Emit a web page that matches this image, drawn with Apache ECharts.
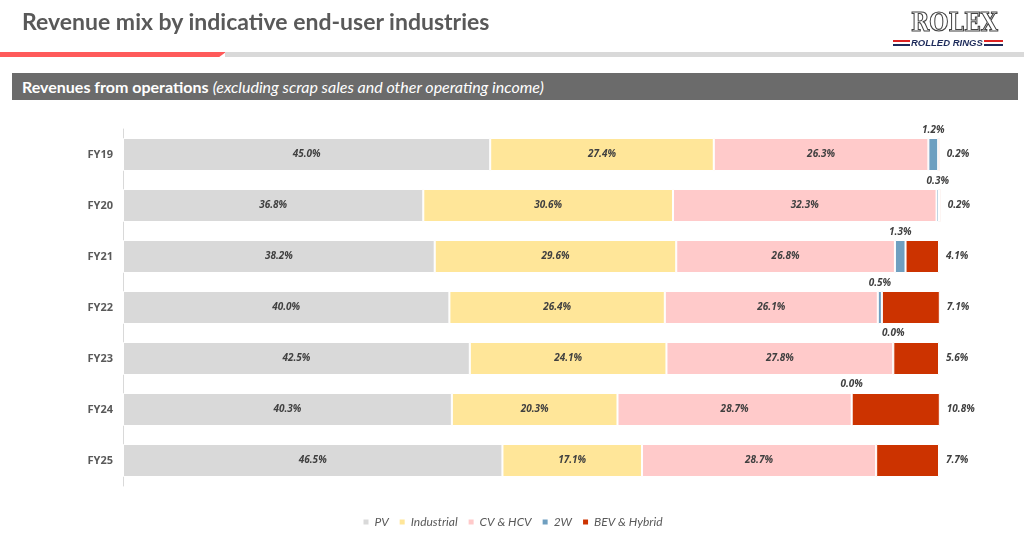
<!DOCTYPE html>
<html>
<head>
<meta charset="utf-8">
<script src="https://cdn.jsdelivr.net/npm/echarts@6.0.0/dist/echarts.min.js"></script>
<style>
  html, body { margin:0; padding:0; width:1024px; height:542px; background:#fff; overflow:hidden; }
  #chart { position:absolute; left:0; top:0; width:1024px; height:542px; }
  .hdr { position:absolute; z-index:2; }
  #title { left:22px; top:7px; font-family:Lato, sans-serif; font-weight:700; font-size:23px; color:#595959; white-space:nowrap; }
  #redline { left:0; top:52px; width:226px; height:5px; background:#ff5a5a; clip-path:polygon(0 0, 100% 0, 97% 100%, 0 100%); }
  #greyline { left:225px; top:52px; width:799px; height:5px; background:#d9d9d9; }
  #band { left:12px; top:73px; width:1006px; height:27px; background:#6b6b6b; color:#fff; font-family:Lato, sans-serif; font-size:16px; line-height:27px; white-space:nowrap; }
  #band b { margin-left:10px; font-weight:700; }
  #band i { font-weight:400; }
  #logo1 { left:911px; top:9px; font-family:"DejaVu Serif", serif; font-weight:700; font-size:22px; letter-spacing:0px; color:#fff; -webkit-text-stroke:1px #444; transform:scaleY(1.15); transform-origin:0 50%; }
  #logo2 { left:911px; top:37px; font-family:"Liberation Sans", Arial, sans-serif; font-weight:700; font-style:italic; font-size:9.5px; color:#1c2a5a; white-space:nowrap; }
  .stripe { position:absolute; height:2px; }
</style>
</head>
<body>
<div id="chart"></div>
<div class="hdr" id="title">Revenue mix by indicative end-user industries</div>
<div class="hdr" id="redline"></div>
<div class="hdr" id="greyline"></div>
<div class="hdr" id="band"><b>Revenues from operations</b> <i>(excluding scrap sales and other operating income)</i></div>
<div class="hdr" id="logo1">ROLEX</div>
<div class="hdr" id="logo2">ROLLED RINGS</div>
<div class="hdr stripe" style="left:893px;top:40px;width:17px;background:#d22;"></div>
<div class="hdr stripe" style="left:893px;top:44px;width:17px;background:#1c2a5a;"></div>
<div class="hdr stripe" style="left:984px;top:40px;width:19px;background:#d22;"></div>
<div class="hdr stripe" style="left:984px;top:44px;width:19px;background:#1c2a5a;"></div>
<script>
const categories = ['FY19','FY20','FY21','FY22','FY23','FY24','FY25'];
const pv         = [45.0, 36.8, 38.2, 40.0, 42.5, 40.3, 46.5];
const industrial = [27.4, 30.6, 29.6, 26.4, 24.1, 20.3, 17.1];
const cvHcv      = [26.3, 32.3, 26.8, 26.1, 27.8, 28.7, 28.7];
const twoW       = [1.2, 0.3, 1.3, 0.5, 0.0, 0.0, null];
const bevHybrid  = [0.2, 0.2, 4.1, 7.1, 5.6, 10.8, 7.7];

const labelFont = { fontStyle:'italic', fontWeight:'bold', fontSize:10, color:'#404040', fontFamily:'"Open Sans", sans-serif' };
const fmt = p => (p.value == null ? '' : p.value.toFixed(1) + '%');

function mk(name, data, color, labelPos, dist) {
  return {
    name, type:'bar', stack:'total', data, barWidth:33, clip:false,
    itemStyle:{ color, borderColor:'#fff', borderWidth:1 },
    label:Object.assign({ show:true, position:labelPos, distance:dist, formatter:fmt }, labelFont),
    emphasis:{ disabled:true }
  };
}

const chart = echarts.init(document.getElementById('chart'));
chart.setOption({
  animation:false,
  grid:{ left:123, right:85, top:129, bottom:56, containLabel:false },
  xAxis:{ type:'value', min:0, max:100, show:false },
  yAxis:{ type:'category', data:categories, inverse:true,
    axisLine:{ show:true, lineStyle:{ color:'#d9d9d9', width:1 } },
    axisTick:{ show:false },
    axisLabel:{ margin:10, color:'#595959', fontWeight:'bold', fontSize:11, fontFamily:'"Open Sans", sans-serif' } },
  legend:{ bottom:9, left:'center', icon:'rect', itemWidth:7, itemHeight:7, itemGap:9,
    textStyle:{ color:'#595959', fontStyle:'italic', fontSize:12, fontFamily:'Lato, sans-serif' } },
  series:[
    mk('PV', pv, '#d9d9d9', 'inside', 5),
    mk('Industrial', industrial, '#ffe699', 'inside', 5),
    mk('CV & HCV', cvHcv, '#ffcaca', 'inside', 5),
    mk('2W', twoW, '#6f9fc0', 'top', 3),
    mk('BEV & Hybrid', bevHybrid, '#cc3300', 'right', 7)
  ]
});
</script>
</body>
</html>
